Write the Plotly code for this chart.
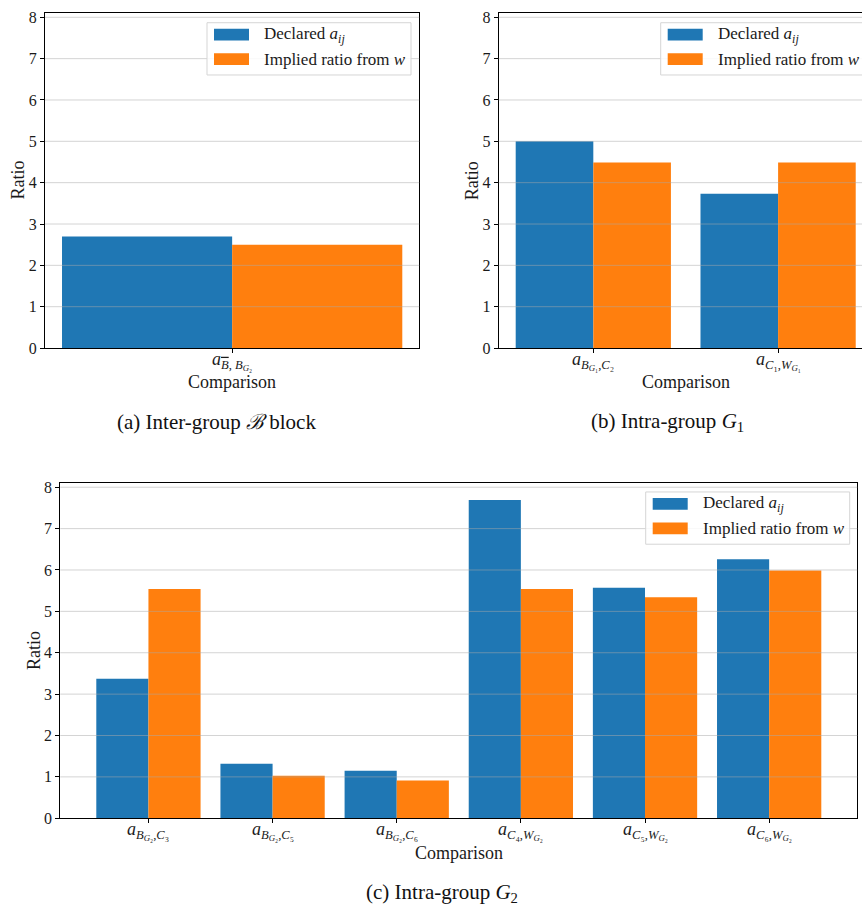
import plotly.graph_objects as go

W, H = 862, 915
FONT = "Liberation Serif"
INK = "#1a1a1a"

# ---- data -------------------------------------------------------------
series_names = ["Declared <i>a</i><sub><i>ij</i></sub>", "Implied ratio from <i>w</i>"]
series_colors = ["#1f77b4", "#ff7f0e"]

BBAR = "<span style='text-decoration:overline'><i>B</i></span>"
cats_a = ["<i>a</i><sub>" + BBAR + ", <i>B</i><sub><i>G</i>₂</sub></sub>"]
declared_a = [2.70]
implied_a = [2.50]

cats_b = [
    "<i>a</i><sub><i>B</i><sub><i>G</i>₁</sub>,<i>C</i>₂</sub>",
    "<i>a</i><sub><i>C</i>₁,<i>W</i><sub><i>G</i>₁</sub></sub>",
]
declared_b = [5.00, 3.73]
implied_b = [4.49, 4.49]

cats_c = [
    "<i>a</i><sub><i>B</i><sub><i>G</i>₂</sub>,<i>C</i>₃</sub>",
    "<i>a</i><sub><i>B</i><sub><i>G</i>₂</sub>,<i>C</i>₅</sub>",
    "<i>a</i><sub><i>B</i><sub><i>G</i>₂</sub>,<i>C</i>₆</sub>",
    "<i>a</i><sub><i>C</i>₄,<i>W</i><sub><i>G</i>₂</sub></sub>",
    "<i>a</i><sub><i>C</i>₅,<i>W</i><sub><i>G</i>₂</sub></sub>",
    "<i>a</i><sub><i>C</i>₆,<i>W</i><sub><i>G</i>₂</sub></sub>",
]
declared_c = [3.37, 1.32, 1.15, 7.69, 5.57, 6.26]
implied_c = [5.54, 1.03, 0.91, 5.54, 5.34, 5.99]

y_ticks = [0, 1, 2, 3, 4, 5, 6, 7, 8]
y_max = 8.1

captions = [
    "(a) Inter-group <i>ℬ</i> block",
    "(b) Intra-group <i>G</i><sub>1</sub>",
    "(c) Intra-group <i>G</i><sub>2</sub>",
]


# ---- pixel helpers ----------------------------------------------------
def px(x):
    return x / W


def py(y):
    return 1 - y / H


panels = [
    # suffix, categories, declared, implied, x px span, y px span, x range, right frame
    ("", cats_a, declared_a, implied_a, (45, 419.3), (9.3, 349), [-0.462, 0.462], True),
    ("2", cats_b, declared_b, implied_b, (498.7, 862), (9.3, 349), [-0.512, 1.454], False),
    ("3", cats_c, declared_c, implied_c, (60.3, 857.3), (486, 826), [-0.71, 5.71], True),
]

fig = go.Figure()
layout = dict(
    width=W,
    height=H,
    autosize=False,
    margin=dict(l=0, r=0, t=0, b=0, pad=0),
    paper_bgcolor="white",
    plot_bgcolor="white",
    showlegend=False,
    barmode="group",
    bargap=0.16,
    bargroupgap=0,
    font=dict(family=FONT, color=INK, size=16),
)
shapes = []
annotations = []

for suffix, cats, dec, imp, (x0, x1), (y0, y1), xr, right_frame in panels:
    xa, ya = "x" + suffix, "y" + suffix
    for name, vals, col in zip(series_names, [dec, imp], series_colors):
        fig.add_trace(go.Bar(
            x=cats, y=vals, name=name, xaxis=xa, yaxis=ya,
            marker=dict(color=col, line=dict(width=0)),
        ))
    layout["xaxis" + suffix] = dict(
        domain=[px(x0), px(x1)], anchor=ya, type="category", range=xr,
        showline=True, linecolor="black", linewidth=1.2, mirror=True,
        ticks="outside", ticklen=4, tickcolor="black", showgrid=False,
        showticklabels=False, zeroline=False,
    )
    layout["yaxis" + suffix] = dict(
        domain=[py(y1), py(y0)], anchor=xa, range=[0, y_max],
        tickvals=y_ticks, showline=True, linecolor="black", linewidth=1.2,
        mirror=right_frame, ticks="outside", ticklen=4, tickcolor="black",
        showgrid=False, zeroline=False,
        tickfont=dict(family=FONT, size=16, color=INK),
    )
    # horizontal grid drawn over the bars
    for t in y_ticks[1:]:
        shapes.append(dict(
            type="line", xref=xa + " domain", yref=ya, x0=0, x1=1, y0=t, y1=t,
            line=dict(color="rgba(170,170,170,0.5)", width=1), layer="above",
        ))
    # category labels under each tick
    for c in cats:
        annotations.append(dict(
            text=c, xref=xa, yref="paper", x=c, y=py(y1 - 1),
            xanchor="center", yanchor="top", showarrow=False,
            font=dict(family=FONT, size=18, color=INK),
        ))
    # y axis title
    annotations.append(dict(
        text="Ratio", textangle=-90, xref="paper", yref="paper",
        x=px(x0 - 27), y=py((y0 + y1) / 2), xanchor="center", yanchor="middle",
        showarrow=False, font=dict(family=FONT, size=18, color=INK),
    ))

# "Comparison" titles (centre of each full axis)
for cx, cy in [(232.2, 383), (685.7, 383), (458.8, 861)]:
    annotations.append(dict(
        text="Comparison", xref="paper", yref="paper", x=px(cx), y=py(cy),
        xanchor="center", yanchor="middle", showarrow=False,
        font=dict(family=FONT, size=18, color=INK),
    ))

# sub-figure captions
for txt, (cx, cy) in zip(captions, [(216, 424), (667, 424), (442, 902)]):
    annotations.append(dict(
        text=txt, xref="paper", yref="paper", x=px(cx), y=py(cy),
        xanchor="center", yanchor="middle", showarrow=False,
        font=dict(family=FONT, size=21, color="#111111"),
    ))

# legend boxes
for lx, ly in [(207, 19), (660.7, 19), (645.7, 495)]:
    shapes.append(dict(
        type="rect", xref="paper", yref="paper",
        x0=px(lx), x1=px(lx + 204), y0=py(ly + 53), y1=py(ly),
        line=dict(color="#d5d5d5", width=1), fillcolor="rgba(255,255,255,0.85)",
        layer="above",
    ))
    for i, (name, col) in enumerate(zip(series_names, series_colors)):
        sy = ly + 6 + 25 * i
        shapes.append(dict(
            type="rect", xref="paper", yref="paper",
            x0=px(lx + 7), x1=px(lx + 42), y0=py(sy + 12), y1=py(sy),
            line=dict(width=0), fillcolor=col, layer="above",
        ))
        annotations.append(dict(
            text=name, xref="paper", yref="paper", x=px(lx + 55), y=py(sy + 6),
            xanchor="left", yanchor="middle", showarrow=False,
            font=dict(family=FONT, size=17, color=INK),
        ))

layout["shapes"] = shapes
layout["annotations"] = annotations
fig.update_layout(**layout)
fig.write_html("out.html")
